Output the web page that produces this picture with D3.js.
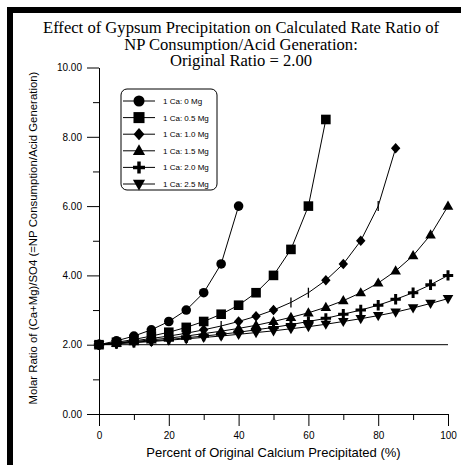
<!DOCTYPE html>
<html>
<head>
<meta charset="utf-8">
<script src="https://cdn.jsdelivr.net/npm/d3@7"></script>
<style>
  body { margin: 0; background: #fff; }
  svg { display: block; }
</style>
</head>
<body>
<script>
// Percent of original calcium precipitated
const pct = [0, 5, 10, 15, 20, 25, 30, 35, 40, 45, 50, 55, 60, 65, 70, 75, 80, 85, 90, 95, 100];

// Molar ratio (Ca+Mg)/SO4 for each Ca:Mg composition
const ca0Mg  = [2.00, 2.11, 2.25, 2.43, 2.67, 3.00, 3.50, 4.33, 6.00];
const ca05Mg = [2.00, 2.07, 2.15, 2.25, 2.36, 2.50, 2.67, 2.88, 3.14, 3.50, 4.00, 4.75, 6.00, 8.50];
const ca10Mg = [2.00, 2.05, 2.11, 2.18, 2.25, 2.33, 2.43, 2.54, 2.67, 2.82, 3.00, 3.22, 3.50, 3.86, 4.33, 5.00, 6.00, 7.67];
const ca15Mg = [2.00, 2.04, 2.09, 2.14, 2.19, 2.25, 2.32, 2.39, 2.47, 2.56, 2.67, 2.79, 2.92, 3.08, 3.27, 3.50, 3.78, 4.13, 4.57, 5.17, 6.00];
const ca20Mg = [2.00, 2.03, 2.07, 2.11, 2.15, 2.20, 2.25, 2.30, 2.36, 2.43, 2.50, 2.58, 2.67, 2.76, 2.88, 3.00, 3.14, 3.31, 3.50, 3.73, 4.00];
const ca25Mg = [2.00, 2.03, 2.06, 2.09, 2.13, 2.17, 2.21, 2.25, 2.30, 2.35, 2.40, 2.46, 2.52, 2.59, 2.67, 2.75, 2.84, 2.94, 3.06, 3.19, 3.33];

const seriesNames = ["1 Ca: 0 Mg", "1 Ca: 0.5 Mg", "1 Ca: 1.0 Mg", "1 Ca: 1.5 Mg", "1 Ca: 2.0 Mg", "1 Ca: 2.5 Mg"];
const seriesValues = [ca0Mg, ca05Mg, ca10Mg, ca15Mg, ca20Mg, ca25Mg];

// Points of the 1.0 Mg curve whose symbol prints as a bare stroke
const ca10MgThinPts = [35, 55, 60, 80];

const originalRatio = 2.00;
const yTicks = [0, 1, 2, 3, 4, 5, 6, 7, 8, 9, 10];
const xTicks = [0, 10, 20, 30, 40, 50, 60, 70, 80, 90, 100];

const titleLines = [
  "Effect of Gypsum Precipitation on Calculated Rate Ratio of",
  "NP Consumption/Acid Generation:",
  "Original Ratio = 2.00"
];
const xTitle = "Percent of Original Calcium Precipitated (%)";
const yTitle = "Molar Ratio of (Ca+Mg)/SO4 (=NP Consumption/Acid Generation)";

const W = 461, H = 465;
const SANS = "'Liberation Sans', Arial, sans-serif";
const SERIF = "'Liberation Serif', 'Times New Roman', serif";

const svg = d3.select("body").append("svg")
  .attr("width", W).attr("height", H);

svg.append("rect").attr("width", W).attr("height", H).attr("fill", "#fff");

// heavy page frame along the top and left edges
svg.append("rect").attr("x", 7).attr("y", 7).attr("width", W - 7).attr("height", 6).attr("fill", "#000");
svg.append("rect").attr("x", 7).attr("y", 7).attr("width", 6).attr("height", H - 7).attr("fill", "#000");

const x = d3.scaleLinear().domain([0, 100]).range([99, 448]);
const y = d3.scaleLinear().domain([0, 10]).range([414, 67.5]);

// title
const title = svg.append("text")
  .attr("text-anchor", "middle")
  .attr("font-family", SERIF)
  .attr("font-size", 16.6)
  .attr("fill", "#000");
titleLines.forEach((t, i) => {
  title.append("tspan").attr("x", 241).attr("y", 33 + i * 16.7).text(t);
});

// y axis: minor then major ticks
svg.append("g")
  .attr("transform", `translate(${x(0)},0)`)
  .call(d3.axisLeft(y).tickValues(yTicks.filter(v => v % 2 === 1)).tickSize(6).tickSizeOuter(0).tickFormat(""))
  .call(g => g.select(".domain").remove());
svg.append("g")
  .attr("transform", `translate(${x(0)},0)`)
  .call(d3.axisLeft(y).tickValues(yTicks.filter(v => v % 2 === 0)).tickSize(12).tickSizeOuter(0)
    .tickPadding(5).tickFormat(d3.format(".2f")));

// x axis
svg.append("g")
  .attr("transform", `translate(0,${y(0)})`)
  .call(d3.axisBottom(x).tickValues(xTicks.filter(v => v % 20 !== 0)).tickSize(6).tickSizeOuter(0).tickFormat(""))
  .call(g => g.select(".domain").remove());
svg.append("g")
  .attr("transform", `translate(0,${y(0)})`)
  .call(d3.axisBottom(x).tickValues(xTicks.filter(v => v % 20 === 0)).tickSize(12).tickSizeOuter(0)
    .tickPadding(6).tickFormat(d3.format("d")));

svg.selectAll(".tick text").attr("font-family", SANS).attr("font-size", 10).attr("fill", "#000");
svg.selectAll(".tick line, .domain").attr("stroke", "#000").attr("stroke-width", 1);

// axis titles
svg.append("text")
  .attr("x", (x(0) + x(100)) / 2).attr("y", 457)
  .attr("text-anchor", "middle")
  .attr("font-family", SANS).attr("font-size", 13)
  .text(xTitle);

svg.append("text")
  .attr("transform", `translate(37,238) rotate(-90)`)
  .attr("text-anchor", "middle")
  .attr("font-family", SANS).attr("font-size", 11.4)
  .text(yTitle);

// reference line at the original ratio
svg.append("line")
  .attr("x1", x(0)).attr("x2", x(100))
  .attr("y1", y(originalRatio)).attr("y2", y(originalRatio))
  .attr("stroke", "#000").attr("stroke-width", 1);

// marker shapes (centred on 0,0)
const markerPaths = [
  d3.symbol(d3.symbolCircle, Math.PI * 4.8 * 4.8)(),
  "M-4.8,-4.8h9.6v9.6h-9.6Z",
  "M0,-5.3L4.7,0L0,5.3L-4.7,0Z",
  "M0,-5.6L5.3,3.6L-5.3,3.6Z",
  "M-1.5,-5.2h3v3.7h3.7v3h-3.7v3.7h-3v-3.7h-3.7v-3h3.7Z",
  "M0,5.6L5.3,-3.6L-5.3,-3.6Z"
];

const line = d3.line().x(d => x(d.p)).y(d => y(d.v));
const data = seriesValues.map(vals => vals.map((v, i) => ({ p: pct[i], v })));

const plot = svg.append("g");
data.forEach(pts => {
  plot.append("path").attr("d", line(pts))
    .attr("fill", "none").attr("stroke", "#000").attr("stroke-width", 1);
});

data.forEach((pts, s) => {
  const g = plot.append("g");
  pts.forEach(d => {
    if (s === 2 && ca10MgThinPts.includes(d.p)) {
      g.append("line")
        .attr("x1", x(d.p)).attr("x2", x(d.p))
        .attr("y1", y(d.v) - 5).attr("y2", y(d.v) + 5)
        .attr("stroke", "#000").attr("stroke-width", 1.3);
    } else {
      g.append("path").attr("d", markerPaths[s])
        .attr("transform", `translate(${x(d.p)},${y(d.v)})`)
        .attr("fill", "#000");
    }
  });
});

// legend
const lg = svg.append("g");
lg.append("rect")
  .attr("x", 121).attr("y", 89).attr("width", 96).attr("height", 101)
  .attr("rx", 6).attr("ry", 6)
  .attr("fill", "#fff").attr("stroke", "#000").attr("stroke-width", 1);
seriesNames.forEach((name, i) => {
  const cy = 101 + i * 16.6;
  lg.append("line").attr("x1", 123).attr("x2", 155).attr("y1", cy).attr("y2", cy)
    .attr("stroke", "#000").attr("stroke-width", 1);
  lg.append("path").attr("d", markerPaths[i])
    .attr("transform", `translate(139,${cy}) scale(1.15)`).attr("fill", "#000");
  lg.append("text").attr("x", 163).attr("y", cy + 3)
    .attr("font-family", SANS).attr("font-size", 8).attr("fill", "#000")
    .text(name);
});
</script>
</body>
</html>
